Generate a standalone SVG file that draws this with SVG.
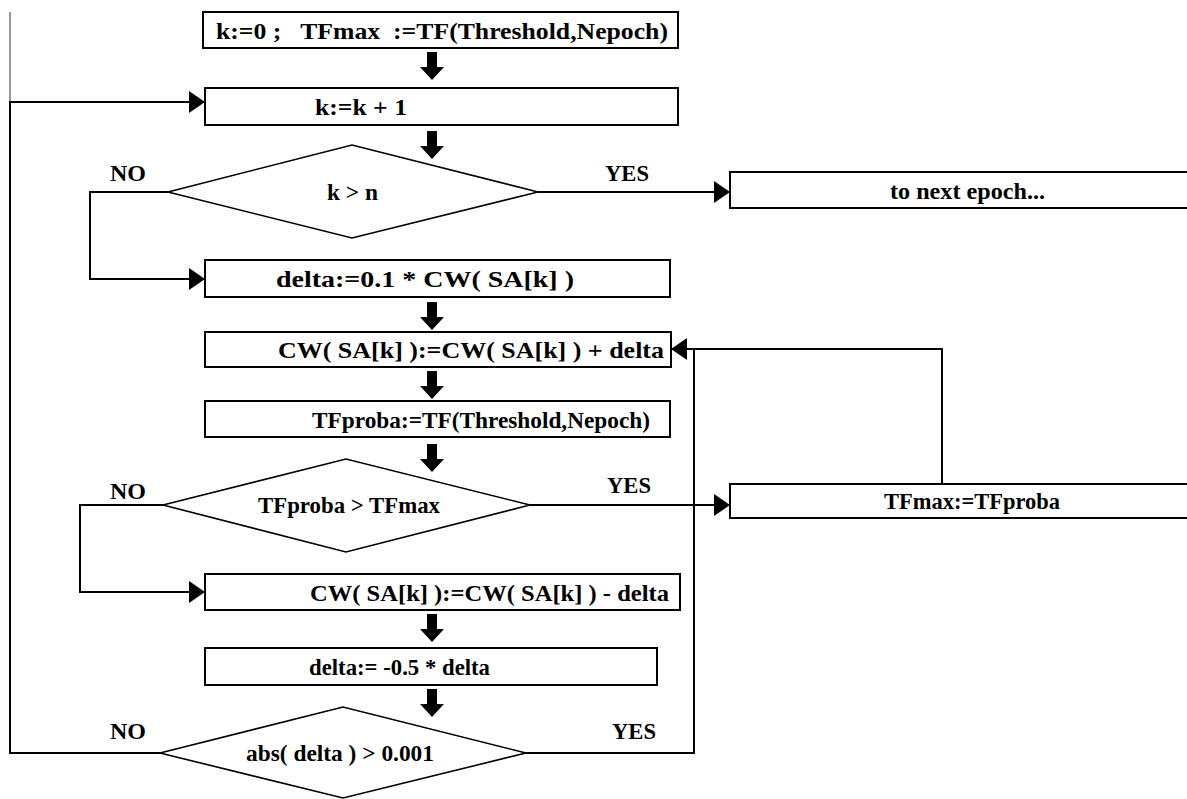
<svg xmlns="http://www.w3.org/2000/svg" xmlns:xlink="http://www.w3.org/1999/xlink" width="1187" height="799" viewBox="0 0 1187 799">
<style>
.box{fill:#fff;stroke:#000;stroke-width:2}
.dia{fill:#fff;stroke:#000;stroke-width:1.6}
.ln{fill:none;stroke:#000;stroke-width:2}
.t{font-family:"Liberation Serif","Times New Roman",serif;font-weight:bold;font-size:24px;fill:#000}
</style>
<defs>
<marker id="ah" markerWidth="16" markerHeight="22" refX="16" refY="11" orient="auto" markerUnits="userSpaceOnUse"><path d="M0,0 L16,11 L0,22 Z" fill="#000"/></marker>
<path id="da" d="M-5,0 H5 V15 H12 L0,28 L-12,15 H-5 Z" fill="#000"/>
</defs>
<rect width="1187" height="799" fill="#fff"/>
<g id="connectors">
<line x1="10" y1="12" x2="10" y2="102" stroke="#999" stroke-width="2"/>
<polyline class="ln" points="160,753 10,753 10,102 205,102" marker-end="url(#ah)"/>
<polyline class="ln" points="538,192 730,192" marker-end="url(#ah)"/>
<polyline class="ln" points="168,192 90,192 90,279 205,279" marker-end="url(#ah)"/>
<polyline class="ln" points="530,505 730,505" marker-end="url(#ah)"/>
<polyline class="ln" points="163,505 80,505 80,592 205,592" marker-end="url(#ah)"/>
<polyline class="ln" points="942,484 942,349 671,349" marker-end="url(#ah)"/>
<polyline class="ln" points="526,753 694,753 694,349"/>
<use xlink:href="#da" x="432" y="52"/>
<use xlink:href="#da" x="432" y="131"/>
<use xlink:href="#da" x="432" y="302"/>
<use xlink:href="#da" x="432" y="371"/>
<use xlink:href="#da" x="432" y="444"/>
<use xlink:href="#da" x="432" y="614"/>
<use xlink:href="#da" x="432" y="689"/>
</g>
<g id="labels">
<text class="t" x="110" y="181" textLength="36" lengthAdjust="spacingAndGlyphs">NO</text>
<text class="t" x="605" y="181" textLength="44" lengthAdjust="spacingAndGlyphs">YES</text>
<text class="t" x="110" y="499" textLength="36" lengthAdjust="spacingAndGlyphs">NO</text>
<text class="t" x="607" y="493" textLength="44" lengthAdjust="spacingAndGlyphs">YES</text>
<text class="t" x="110" y="739" textLength="36" lengthAdjust="spacingAndGlyphs">NO</text>
<text class="t" x="612" y="739" textLength="44" lengthAdjust="spacingAndGlyphs">YES</text>
</g>
<g id="init">
<rect class="box" x="203" y="12" width="475" height="36"/>
<text class="t" x="216" y="39" textLength="452" lengthAdjust="spacingAndGlyphs" xml:space="preserve">k:=0 ;   TFmax  :=TF(Threshold,Nepoch)</text>
</g>
<g id="inc">
<rect class="box" x="205" y="88" width="473" height="37"/>
<text class="t" x="315" y="115" textLength="92" lengthAdjust="spacingAndGlyphs">k:=k + 1</text>
</g>
<g id="cond1">
<polygon class="dia" points="168,192 352,145 538,192 352,238"/>
<text class="t" x="327" y="200" textLength="51" lengthAdjust="spacingAndGlyphs">k &gt; n</text>
</g>
<g id="next">
<rect class="box" x="730" y="172" width="470" height="36"/>
<text class="t" x="890" y="199" textLength="155" lengthAdjust="spacingAndGlyphs">to next epoch...</text>
</g>
<g id="delta1">
<rect class="box" x="205" y="260" width="465" height="37"/>
<text class="t" x="276" y="287" textLength="298" lengthAdjust="spacingAndGlyphs">delta:=0.1 * CW( SA[k] )</text>
</g>
<g id="plus">
<rect class="box" x="205" y="332" width="466" height="35"/>
<text class="t" x="278" y="358" textLength="386" lengthAdjust="spacingAndGlyphs">CW( SA[k] ):=CW( SA[k] ) + delta</text>
</g>
<g id="proba">
<rect class="box" x="205" y="401" width="465" height="36"/>
<text class="t" x="312" y="428" textLength="338" lengthAdjust="spacingAndGlyphs">TFproba:=TF(Threshold,Nepoch)</text>
</g>
<g id="cond2">
<polygon class="dia" points="163,505 346,459 530,505 346,552"/>
<text class="t" x="258" y="513" textLength="182" lengthAdjust="spacingAndGlyphs">TFproba &gt; TFmax</text>
</g>
<g id="tfmax">
<rect class="box" x="730" y="484" width="470" height="34"/>
<text class="t" x="884" y="509" textLength="176" lengthAdjust="spacingAndGlyphs">TFmax:=TFproba</text>
</g>
<g id="minus">
<rect class="box" x="205" y="574" width="475" height="36"/>
<text class="t" x="310" y="601" textLength="359" lengthAdjust="spacingAndGlyphs">CW( SA[k] ):=CW( SA[k] ) - delta</text>
</g>
<g id="delta2">
<rect class="box" x="205" y="648" width="452" height="37"/>
<text class="t" x="309" y="675" textLength="181" lengthAdjust="spacingAndGlyphs">delta:= -0.5 * delta</text>
</g>
<g id="cond3">
<polygon class="dia" points="160,753 343,707 526,753 343,798"/>
<text class="t" x="246" y="761" textLength="188" lengthAdjust="spacingAndGlyphs">abs( delta ) &gt; 0.001</text>
</g>
</svg>
